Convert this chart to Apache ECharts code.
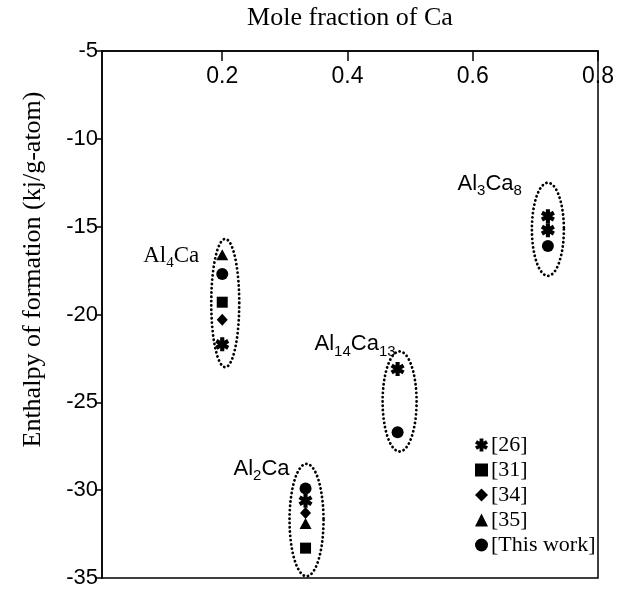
<!DOCTYPE html>
<html>
<head>
<meta charset="utf-8">
<script src="https://cdn.jsdelivr.net/npm/echarts@6/dist/echarts.min.js"></script>
<style>
html,body{margin:0;padding:0;background:#fff;}
#main{width:618px;height:589px;}
</style>
</head>
<body>
<div id="main"></div>
<script>
// ---- data ----
const xTicks = [0.2, 0.4, 0.6, 0.8];
const seriesNames = ['[26]', '[31]', '[34]', '[35]', '[This work]'];
const ref26 = [[0.2, -21.7], [0.333, -30.6], [0.48, -23.1], [0.72, -14.4], [0.72, -15.2]];
const ref31 = [[0.2, -19.3], [0.333, -33.3]];
const ref34 = [[0.2, -20.3], [0.333, -31.3]];
const ref35 = [[0.2, -16.6], [0.333, -31.9]];
const thisWork = [[0.2, -17.7], [0.333, -29.9], [0.48, -26.7], [0.72, -16.1]];
const compoundX = [0.2, 0.333, 0.48, 0.72];
const compoundTop = [-15.7, -28.5, -22.1, -12.5];
const compoundBottom = [-23.0, -34.9, -27.8, -17.8];
const compoundMain = [['Al', '4', 'Ca', ''], ['Al', '2', 'Ca', ''], ['Al', '14', 'Ca', '13'], ['Al', '3', 'Ca', '8']];

// ---- styles ----
const ellipseStyle = [
  {rx: 14, dx: 3, lab: {dx: -12, dy: 17, serif: true}},
  {rx: 17, dx: 1, lab: {dx: 0, dy: 5, serif: false}},
  {rx: 17, dx: 2, lab: {dx: 13, dy: -7, serif: false}},
  {rx: 16, dx: 0, lab: {dx: -10, dy: 1, serif: false}}
];
const SERIF = '"Liberation Serif", "Times New Roman", serif';
const SANS = '"Liberation Sans", Arial, Helvetica, sans-serif';
const asteriskPath = 'path://M-3,-10 L3,-10 L3,10 L-3,10 Z M10.16,2.402 L7.16,7.598 L-10.16,-2.402 L-7.16,-7.598 Z M-10.16,2.402 L7.16,-7.598 L10.16,-2.402 L-7.16,7.598 Z';
const symbols = [asteriskPath, 'rect', 'diamond', 'triangle', 'circle'];
const symSizes = [[14, 14], 11, [11, 12], [12, 11], 12];

const ellipseData = compoundX.map((x, i) => [x, compoundTop[i], compoundBottom[i], i]);

function renderEllipse(params, api) {
  const i = api.value(3);
  const st = ellipseStyle[i];
  const pTop = api.coord([api.value(0), api.value(1)]);
  const pBot = api.coord([api.value(0), api.value(2)]);
  const cx = pTop[0] + st.dx;
  const cy = (pTop[1] + pBot[1]) / 2;
  const ry = (pBot[1] - pTop[1]) / 2;
  const rx = st.rx;
  const pts = [];
  for (let k = 0; k < 120; k++) {
    const t = (k / 120) * Math.PI * 2;
    pts.push([cx + rx * Math.cos(t), cy + ry * Math.sin(t)]);
  }
  const parts = compoundMain[i];
  const ff = st.lab.serif ? SERIF : SANS;
  let txt = '{m|' + parts[0] + '}{s|' + parts[1] + '}{m|' + parts[2] + '}';
  if (parts[3]) txt += '{s|' + parts[3] + '}';
  return {
    type: 'group',
    children: [
      {
        type: 'polygon',
        shape: {points: pts},
        style: {fill: 'none', stroke: '#000', lineWidth: 2.8, lineDash: [0.1, 4.2], lineCap: 'round'}
      },
      {
        type: 'text',
        x: cx - rx + st.lab.dx,
        y: pTop[1] + st.lab.dy,
        style: {
          text: txt,
          align: 'right',
          verticalAlign: 'middle',
          rich: {
            m: {fontFamily: ff, fontSize: st.lab.serif ? 23 : 22, lineHeight: 30, verticalAlign: 'middle', fill: '#000'},
            s: {fontFamily: ff, fontSize: 15, lineHeight: 15, verticalAlign: 'bottom', fill: '#000'}
          }
        }
      }
    ]
  };
}

const dataSets = [ref26, ref31, ref34, ref35, thisWork];
const scatterSeries = dataSets.map((d, i) => ({
  name: seriesNames[i],
  type: 'scatter',
  data: d,
  symbol: symbols[i],
  symbolSize: symSizes[i],
  itemStyle: {color: '#000', opacity: 1},
  z: 5
}));

const chart = echarts.init(document.getElementById('main'), null, {renderer: 'canvas'});
chart.setOption({
  animation: false,
  backgroundColor: '#fff',
  grid: {left: 102, right: 20, top: 48, bottom: 11, show: true, borderColor: '#000', borderWidth: 1.5, containLabel: false},
  legend: {
    orient: 'vertical',
    left: 470,
    top: 429,
    itemGap: 3,
    itemWidth: 13,
    itemHeight: 13,
    data: seriesNames,
    textStyle: {fontFamily: SERIF, fontSize: 22, color: '#000', padding: [0, 0, 0, -2]}
  },
  xAxis: {
    type: 'value',
    position: 'top',
    min: 0.008,
    max: 0.8,
    name: 'Mole fraction of Ca',
    nameLocation: 'middle',
    nameGap: 20,
    nameTextStyle: {fontFamily: SERIF, fontSize: 26, color: '#000'},
    axisLine: {show: true, lineStyle: {color: '#000', width: 1.5}},
    axisTick: {show: true, inside: true, length: 10, customValues: xTicks, lineStyle: {color: '#000', width: 1.5}},
    axisLabel: {inside: true, margin: 14, customValues: xTicks, fontFamily: SANS, fontSize: 23, color: '#000',
      formatter: v => v.toFixed(1)},
    splitLine: {show: false}
  },
  yAxis: {
    type: 'value',
    min: -35,
    max: -5,
    interval: 5,
    name: 'Enthalpy of formation (kj/g-atom)',
    nameLocation: 'middle',
    nameGap: 56,
    nameTextStyle: {fontFamily: SERIF, fontSize: 26, color: '#000', padding: [0, 0, 0, 90]},
    axisLine: {show: true, lineStyle: {color: '#000', width: 1.5}},
    axisTick: {show: true, inside: false, length: 6, lineStyle: {color: '#000', width: 1.5}},
    axisLabel: {margin: 4, fontFamily: SANS, fontSize: 22, color: '#000'},
    splitLine: {show: false}
  },
  series: [
    {
      type: 'custom',
      name: 'ellipses',
      data: ellipseData,
      renderItem: renderEllipse,
      silent: true,
      z: 3,
      encode: {x: 0, y: [1, 2]}
    }
  ].concat(scatterSeries)
});
</script>
</body>
</html>
